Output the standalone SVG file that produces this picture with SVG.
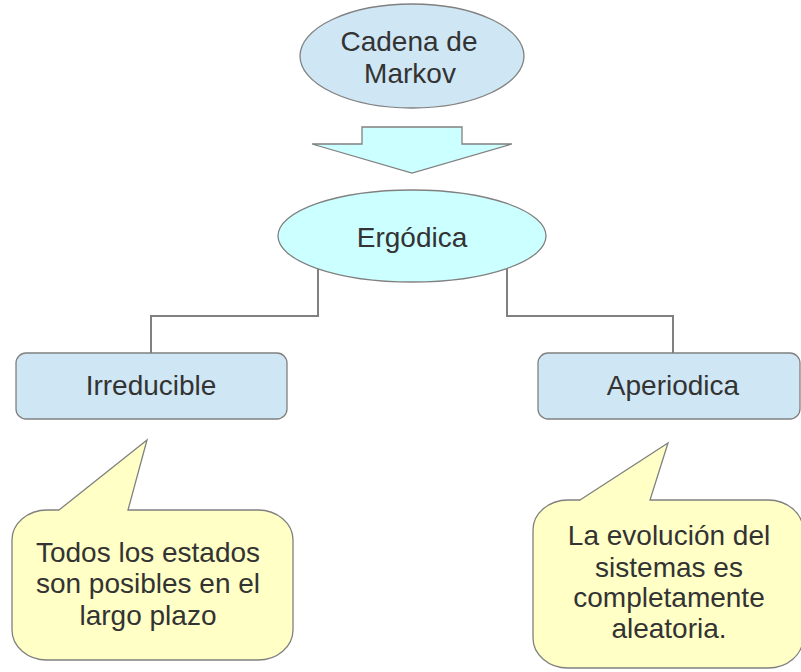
<svg xmlns="http://www.w3.org/2000/svg" width="801" height="672" viewBox="0 0 801 672">
<style>
  .shape { stroke: #808080; stroke-width: 1.3; }
  .blue { fill: #cfe6f4; }
  .cyan { fill: #ccffff; }
  .note { fill: #ffffc6; }
  .conn { fill: none; stroke: #808080; stroke-width: 2; }
  text { font-family: "Liberation Sans", Arial, sans-serif; font-size: 28px; fill: #333333; text-anchor: middle; }
</style>
<rect width="801" height="672" fill="#ffffff"/>
<g id="connectors">
  <polyline class="conn" points="318,269 318,316 151,316 151,353"/>
  <polyline class="conn" points="507,269 507,316 673,316 673,353"/>
</g>
<g id="markov">
  <ellipse class="shape blue" cx="412" cy="56" rx="112" ry="52"/>
  <text x="409" y="51">Cadena de</text>
  <text x="410" y="83">Markov</text>
</g>
<g id="arrow">
  <polygon class="shape cyan" points="362,127 462,127 462,144 512,144 412,173 312,144 362,144"/>
</g>
<g id="ergodica">
  <ellipse class="shape cyan" cx="412" cy="236" rx="134" ry="46"/>
  <text x="412" y="247">Ergódica</text>
</g>
<g id="irreducible">
  <rect class="shape blue" x="16" y="353" width="271" height="66" rx="10" ry="10"/>
  <text x="151" y="395">Irreducible</text>
</g>
<g id="aperiodica">
  <rect class="shape blue" x="538" y="353" width="262" height="66" rx="10" ry="10"/>
  <text x="673" y="395">Aperiodica</text>
</g>
<g id="note-left">
  <path class="shape note" d="M 59 510 L 147 440 L 128 510 L 258 510 A 35 30 0 0 1 293 540 L 293 630 A 35 30 0 0 1 258 660 L 47 660 A 35 30 0 0 1 12 630 L 12 540 A 35 30 0 0 1 47 510 Z"/>
  <text x="148" y="562">Todos los estados</text>
  <text x="148" y="593">son posibles en el</text>
  <text x="148" y="625">largo plazo</text>
</g>
<g id="note-right">
  <path class="shape note" d="M 580 500 L 668 443 L 650 500 L 768 500 A 35 30 0 0 1 803 530 L 803 638 A 35 30 0 0 1 768 668 L 568 668 A 35 30 0 0 1 533 638 L 533 530 A 35 30 0 0 1 568 500 Z"/>
  <text x="669" y="545">La evolución del</text>
  <text x="669" y="577">sistemas es</text>
  <text x="669" y="607">completamente</text>
  <text x="669" y="638">aleatoria.</text>
</g>
</svg>
